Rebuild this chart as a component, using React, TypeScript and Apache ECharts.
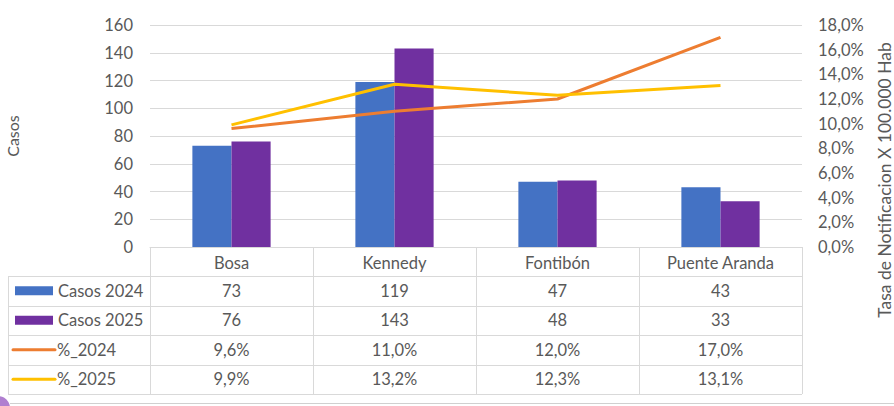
import React, { useEffect, useRef } from "react";
import * as echarts from "echarts";

const categories = ["Bosa", "Kennedy", "Fontibón", "Puente Aranda"];
const casos2024 = [73, 119, 47, 43];
const casos2025 = [76, 143, 48, 33];
const pct2024 = [9.6, 11.0, 12.0, 17.0];
const pct2025 = [9.9, 13.2, 12.3, 13.1];
const leftTicks = { min: 0, max: 160, interval: 20 };
const rightTicks = { min: 0, max: 18, interval: 2 };

const BLUE = "#4472C4";
const PURPLE = "#7030A0";
const ORANGE = "#ED7D31";
const YELLOW = "#FFC000";
const TEXT = "#595959";
const GRIDC = "#D9D9D9";
const FONT = "Lato, 'Open Sans', sans-serif";

const fmtPct = (v: number) => v.toFixed(1).replace(".", ",") + "%";

export default function App() {
  const ref = useRef<HTMLDivElement>(null);
  useEffect(() => {
    if (!ref.current) return;
    const chart = echarts.init(ref.current, undefined, { renderer: "svg" });
    const gridLeft = 150;
    const gridRight = 92;
    const gridTop = 25;
    const gridBottom = 159;
    const option: any = {
      animation: false,
      textStyle: { fontFamily: FONT, color: TEXT },
      grid: { left: gridLeft, right: gridRight, top: gridTop, bottom: gridBottom, outerBoundsMode: "none", containLabel: false },
      xAxis: {
        type: "category",
        data: categories,
        axisLine: { lineStyle: { color: GRIDC, width: 1 } },
        axisTick: { show: true, length: 29, lineStyle: { color: GRIDC } },
        axisLabel: { color: TEXT, fontSize: 16.5, fontFamily: FONT, margin: 7 },
      },
      yAxis: [
        {
          type: "value",
          ...leftTicks,
          name: "Casos",
          nameLocation: "middle",
          nameGap: 130,
          nameRotate: 90,
          nameTextStyle: { color: TEXT, fontSize: 16, fontFamily: FONT },
          axisLabel: { color: TEXT, fontSize: 16.5, fontFamily: FONT, margin: 17 },
          splitLine: { lineStyle: { color: GRIDC } },
          axisLine: { show: false },
          axisTick: { show: false },
        },
        {
          type: "value",
          ...rightTicks,
          position: "right",
          name: "Tasa de Notificacion X 100.000 Hab",
          nameLocation: "middle",
          nameGap: 73,
          nameRotate: 90,
          nameTextStyle: { color: TEXT, fontSize: 17.5, fontFamily: FONT, padding: [0, 88, 0, 0] },
          axisLabel: { color: TEXT, fontSize: 16.5, fontFamily: FONT, margin: 16, formatter: fmtPct },
          splitLine: { show: false },
          axisLine: { show: false },
          axisTick: { show: false },
        },
      ],
      series: [
        { name: "Casos 2024", type: "bar", data: casos2024, itemStyle: { color: BLUE }, barGap: "0%", barCategoryGap: "52%" },
        { name: "Casos 2025", type: "bar", data: casos2025, itemStyle: { color: PURPLE }, barGap: "0%", barCategoryGap: "52%" },
        { name: "%_2024", type: "line", yAxisIndex: 1, data: pct2024, showSymbol: false, symbol: "none", lineStyle: { color: ORANGE, width: 3 }, itemStyle: { color: ORANGE } },
        { name: "%_2025", type: "line", yAxisIndex: 1, data: pct2025, showSymbol: false, symbol: "none", lineStyle: { color: YELLOW, width: 3 }, itemStyle: { color: YELLOW } },
      ],
    };
    chart.setOption(option);

    // Build the data table from the axis scale
    const centers = categories.map((c) => chart.convertToPixel({ xAxisIndex: 0 }, c) as number);
    const band = centers.length > 1 ? centers[1] - centers[0] : 163;
    const bounds = [centers[0] - band / 2, ...centers.map((c) => c + band / 2)];
    const axisY = chart.convertToPixel({ yAxisIndex: 0 }, 0) as number;
    const headerH = 29;
    const rowH = 29.5;
    const tableLeft = 8;
    const rowsTop = axisY + headerH;
    const rowsData = [
      { name: "Casos 2024", values: casos2024.map(String), key: "rect", color: BLUE },
      { name: "Casos 2025", values: casos2025.map(String), key: "rect", color: PURPLE },
      { name: "%_2024", values: pct2024.map(fmtPct), key: "line", color: ORANGE },
      { name: "%_2025", values: pct2025.map(fmtPct), key: "line", color: YELLOW },
    ];
    const tableBottom = rowsTop + rowH * rowsData.length;
    const right = bounds[bounds.length - 1];
    const els: any[] = [];
    const lineStyle = { stroke: GRIDC, lineWidth: 1 };
    for (let i = 0; i <= rowsData.length; i++) {
      const y = Math.round(rowsTop + rowH * i) + 0.5;
      els.push({ type: "line", shape: { x1: tableLeft, y1: y, x2: right, y2: y }, style: lineStyle, silent: true });
    }
    els.push({ type: "line", shape: { x1: tableLeft + 0.5, y1: rowsTop, x2: tableLeft + 0.5, y2: tableBottom }, style: lineStyle, silent: true });
    bounds.forEach((b) => {
      const x = Math.round(b) + 0.5;
      els.push({ type: "line", shape: { x1: x, y1: rowsTop, x2: x, y2: tableBottom }, style: lineStyle, silent: true });
    });
    const tfont = `16.5px ${FONT}`;
    rowsData.forEach((r, i) => {
      const cy = rowsTop + rowH * i + rowH / 2;
      if (r.key === "rect") {
        els.push({ type: "rect", shape: { x: 15, y: cy - 4.5, width: 38, height: 9 }, style: { fill: r.color }, silent: true });
        els.push({ type: "text", x: 58, y: cy, style: { text: r.name, fill: TEXT, font: tfont, textVerticalAlign: "middle", textAlign: "left" }, silent: true });
      } else {
        els.push({ type: "line", shape: { x1: 13, y1: cy, x2: 55, y2: cy }, style: { stroke: r.color, lineWidth: 3, lineCap: "round" }, silent: true });
        els.push({ type: "text", x: 57, y: cy, style: { text: r.name, fill: TEXT, font: tfont, textVerticalAlign: "middle", textAlign: "left" }, silent: true });
      }
      r.values.forEach((v, j) => {
        els.push({ type: "text", x: centers[j], y: cy, style: { text: v, fill: TEXT, font: tfont, textVerticalAlign: "middle", textAlign: "center" }, silent: true });
      });
    });
    els.push({ type: "line", shape: { x1: 10, y1: 403.5, x2: 894, y2: 403.5 }, style: { stroke: "#D0D0D0", lineWidth: 1 }, silent: true });
    els.push({ type: "circle", shape: { cx: -2, cy: 408, r: 12 }, style: { fill: "#B07FD0" }, silent: true });
    chart.setOption({ graphic: { elements: els } });

    return () => chart.dispose();
  }, []);
  return <div ref={ref} style={{ position: "absolute", left: 0, top: 0, width: 894, height: 406, background: "#fff" }} />;
}
